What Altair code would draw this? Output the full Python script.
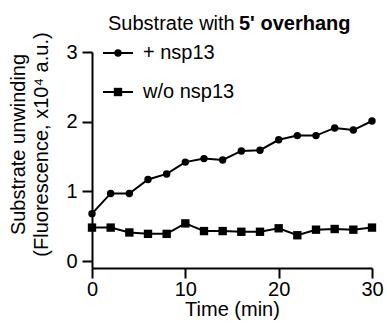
import altair as alt
import pandas as pd

time = [0, 2, 4, 6, 8, 10, 12, 14, 16, 18, 20, 22, 24, 26, 28, 30]
with_nsp13 = [0.68, 0.97, 0.97, 1.17, 1.25, 1.42, 1.47, 1.45, 1.58, 1.59, 1.74, 1.80, 1.80, 1.91, 1.88, 2.01]
without_nsp13 = [0.48, 0.48, 0.41, 0.39, 0.39, 0.54, 0.43, 0.43, 0.42, 0.42, 0.47, 0.37, 0.45, 0.46, 0.45, 0.48]
series_names = ["+ nsp13", "w/o nsp13"]
x_ticks = [0, 10, 20, 30]
y_ticks = [0, 1, 2, 3]

FONT = "Liberation Sans"
FS = 20

df = pd.DataFrame({
    "time": time * 2,
    "value": with_nsp13 + without_nsp13,
    "series": [series_names[0]] * len(time) + [series_names[1]] * len(time),
})

x = alt.X("time:Q", scale=alt.Scale(domain=[0, 30], nice=False, zero=False),
          axis=alt.Axis(values=x_ticks, title="Time (min)", grid=False))
y = alt.Y("value:Q", scale=alt.Scale(domain=[-0.1, 3], nice=False, zero=False),
          axis=alt.Axis(values=y_ticks, title=["Substrate unwinding", "(Fluorescence, x10⁴ a.u.)"],
                        grid=False, titleX=-84, titleY=92, titleBaseline="top",
                        titleAlign="center", titleAngle=270, titleLineHeight=23))

lines = alt.Chart(df).mark_line(color="black", strokeWidth=2).encode(
    x=x, y=y, detail="series:N")
points = alt.Chart(df).mark_point(filled=True, opacity=1, color="black").encode(
    x=x, y=y,
    shape=alt.Shape("series:N", scale=alt.Scale(domain=series_names, range=["circle", "square"]), legend=None),
    size=alt.Size("series:N", scale=alt.Scale(domain=series_names, range=[55, 70]), legend=None),
)

one = pd.DataFrame({"a": [0]})
title_a = alt.Chart(one).mark_text(text="Substrate with", font=FONT, fontSize=FS, align="left",
                                   baseline="alphabetic", color="black").encode(
    x=alt.value(16), y=alt.value(-22))
title_b = alt.Chart(one).mark_text(text="5' overhang", font=FONT, fontSize=FS, fontWeight="bold",
                                   align="left", baseline="alphabetic", color="black").encode(
    x=alt.value(147), y=alt.value(-22))

leg_rows = [1, 40]
leg_layers = []
for name, yy, shp, sz in zip(series_names, leg_rows, ["circle", "square"], [55, 70]):
    leg_layers.append(alt.Chart(one).mark_rule(color="black", strokeWidth=2).encode(
        x=alt.value(11), x2=alt.value(41), y=alt.value(yy)))
    leg_layers.append(alt.Chart(one).mark_point(shape=shp, filled=True, opacity=1, color="black", size=sz).encode(
        x=alt.value(26), y=alt.value(yy)))
    leg_layers.append(alt.Chart(one).mark_text(text=name, font=FONT, fontSize=FS, align="left",
                                               baseline="middle", color="black").encode(
        x=alt.value(51), y=alt.value(yy)))

chart = alt.layer(lines, points, title_a, title_b, *leg_layers).properties(
    width=280, height=216,
    padding={"left": 92, "top": 52, "right": 15, "bottom": 60},
    autosize=alt.AutoSizeParams(type="none"),
).configure_view(stroke=None).configure_axis(
    domainColor="black", domainWidth=2, tickColor="black", tickWidth=2, tickSize=10,
    labelFont=FONT, labelFontSize=FS, labelColor="black", labelFlush=False,
    titleFont=FONT, titleFontSize=FS, titleFontWeight="normal", titleColor="black",
).configure_axisX(titlePadding=0, labelPadding=1).configure_axisY(labelPadding=5)

chart.save("out.html", embed_options={"renderer": "svg", "actions": False})
